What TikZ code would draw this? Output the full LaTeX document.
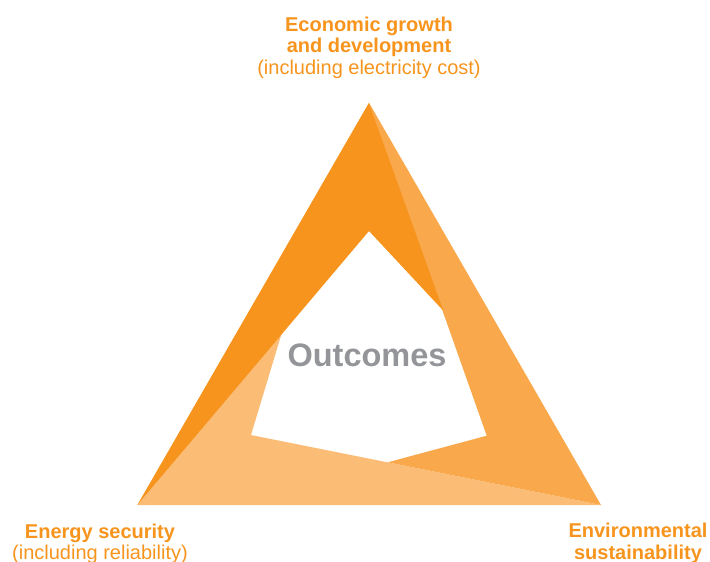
\documentclass[tikz,border=0pt]{standalone}
\usepackage{fontspec}
\setmainfont{Liberation Sans}
\usepackage{tikz}
\definecolor{ffwwqq}{rgb}{0.9686,0.5804,0.1137}
\definecolor{ffbbtt}{rgb}{0.9765,0.6588,0.2941}
\definecolor{ffccvv}{rgb}{0.9843,0.7373,0.4588}
\definecolor{wwwwxx}{rgb}{0.5765,0.5843,0.5961}
\tikzset{
  goal/.style={color=ffwwqq,align=center,inner sep=0pt,anchor=north,font=\fontsize{20}{21.5}\selectfont},
  core/.style={color=wwwwxx,inner sep=0pt,anchor=base,font=\fontsize{32.5}{35}\selectfont\bfseries}
}
\begin{document}
\begin{tikzpicture}[line cap=round,line join=round,x=1pt,y=-1pt]
\useasboundingbox (0,0) rectangle (710,562);
\coordinate (apex) at (369,102.7);
\coordinate (left) at (137.3,505);
\coordinate (right) at (601,505);
\coordinate (itop) at (369,231);
\coordinate (iright) at (443.3,310.7);
\coordinate (ilow) at (486.7,435.7);
\coordinate (ibot) at (387.7,462.3);
\coordinate (ileft) at (251,435);
\coordinate (iup) at (281.7,333.3);
% three wedges
\fill[color=ffccvv] (left) -- (right) -- (ileft) -- (iup) -- cycle;
\fill[color=ffbbtt] (apex) -- (right) -- (ibot) -- (ilow) -- cycle;
\fill[color=ffwwqq] (apex) -- (iright) -- (itop) -- (left) -- cycle;
\node[core] (outcomes) at (367,366) {Outcomes};
\node[goal] (economy) at (369,16.5) {\textbf{Economic growth}\\\textbf{and development}\\(including electricity cost)};
\node[goal] (security) at (100,523.5) {\textbf{Energy security}\\(including reliability)};
\node[goal] (environment) at (638,523) {\textbf{Environmental}\\\textbf{sustainability}};
\end{tikzpicture}
\end{document}
